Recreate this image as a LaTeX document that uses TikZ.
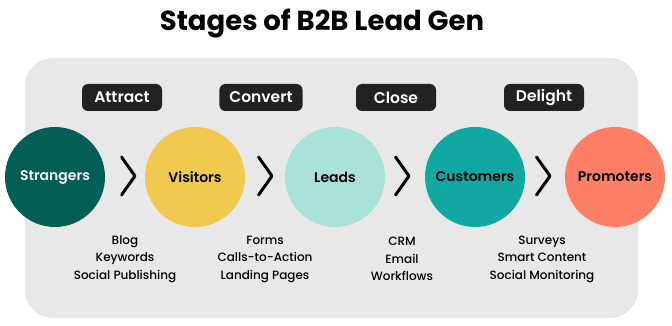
\documentclass[tikz,border=0pt]{standalone}
\usepackage{fontspec}
\setmainfont{Poppins}
\newfontfamily\pmed{Poppins Medium}
\newfontfamily\psemi{Poppins SemiBold}
\definecolor{bgpanel}{HTML}{E8E8E8}
\definecolor{tagbg}{HTML}{222222}
\definecolor{cStr}{HTML}{035E56}
\definecolor{cVis}{HTML}{F0C94E}
\definecolor{cLea}{HTML}{A8E2D8}
\definecolor{cCus}{HTML}{10A8A0}
\definecolor{cPro}{HTML}{FF7F66}
\tikzset{
  stage/.style={circle, minimum size=100pt, inner sep=0pt, font=\psemi\fontsize{14}{16}\selectfont},
  tag/.style={fill=tagbg, text=white, rounded corners=6pt, inner xsep=10pt, minimum width=80pt, minimum height=27pt, font=\psemi\fontsize{15.5}{17}\selectfont},
  chev/.style={line width=3pt, line cap=round, line join=round},
  tools/.style={align=center, font=\pmed\fontsize{12}{17.5}\selectfont}
}
\begin{document}
\begin{tikzpicture}[x=1pt,y=-1pt]
\useasboundingbox (0,0) rectangle (672,326);
\fill[bgpanel, rounded corners=28pt] (25,58) rectangle (638,318);
\node (title) at (322,24) {\fontsize{27.5}{30}\selectfont\bfseries Stages of B2B Lead Gen};
\node[tag] (t1) at (122,97.5) {Attract};
\node[tag] (t2) at (261,97.5) {Convert};
\node[tag] (t3) at (396,97.5) {Close};
\node[tag] (t4) at (544,97.5) {Delight};
\node[stage, fill=cStr, text=white] (s1) at (55,177) {Strangers};
\node[stage, fill=cVis] (s2) at (195,177) {Visitors};
\node[stage, fill=cLea] (s3) at (335,177) {Leads};
\node[stage, fill=cCus] (s4) at (475,177) {Customers};
\node[stage, fill=cPro] (s5) at (615,177) {Promoters};
\foreach \x/\n in {128/c1,265/c2,402/c3,543/c4}{
  \coordinate (\n a) at (\x-6.5,157);
  \coordinate (\n b) at (\x+7,176);
  \coordinate (\n c) at (\x-6.5,195);
  \draw[chev] (\n a) -- (\n b) -- (\n c);
}
\node[tools] (l1) at (125,259) {Blog\\Keywords\\Social Publishing};
\node[tools] (l2) at (265,259) {Forms\\Calls-to-Action\\Landing Pages};
\node[tools] (l3) at (402,259) {CRM\\Email\\Workflows};
\node[tools] (l4) at (542,259) {Surveys\\Smart Content\\Social Monitoring};
\end{tikzpicture}
\end{document}
